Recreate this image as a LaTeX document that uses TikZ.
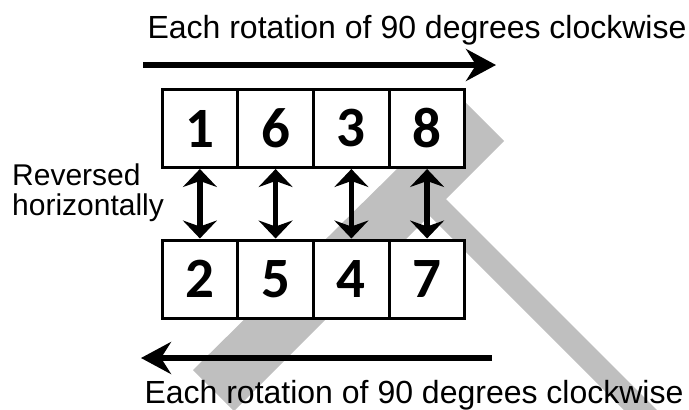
\documentclass[tikz,border=0pt]{standalone}
\usepackage{fontspec}
\setmainfont{Liberation Sans}
\newfontfamily\numfont{Carlito}
\usetikzlibrary{arrows.meta}
\definecolor{wmgray}{RGB}{191,191,191}
\tikzset{
  cell/.style={draw, line width=3pt, fill=white, minimum width=75.75pt, minimum height=78pt, inner sep=0pt,
               font=\numfont\bfseries\fontsize{57}{57}\selectfont},
  bigarrow/.style={line width=6pt, -{Stealth[length=30pt,width=32pt,inset=10pt]}},
  dblarrow/.style={line width=5.5pt, {Stealth[length=18pt,width=34pt,inset=6pt]}-{Stealth[length=18pt,width=34pt,inset=6pt]}},
  caption/.style={anchor=base, inner sep=0pt, font=\fontsize{32}{38}\selectfont},
  sidelabel/.style={anchor=base west, inner sep=0pt, font=\fontsize{30}{30}\selectfont},
  wm/.style={fill=wmgray}
}
\begin{document}
\begin{tikzpicture}[x=1pt,y=-1pt]
\useasboundingbox (0,0) rectangle (689,410);
% watermark shape
\fill[wm] (193,370) -- (465,102) -- (504,141) -- (446,199) -- (657,410) -- (624,410)
          -- (429.5,215.5) -- (234,411) -- cycle;
% boxes
\node[cell] (t1) at (199.9,128.5) {1};
\node[cell] (t2) at (275.6,128.5) {6};
\node[cell] (t3) at (351.4,128.5) {3};
\node[cell] (t4) at (427.1,128.5) {8};
\node[cell] (b1) at (199.9,279) {2};
\node[cell] (b2) at (275.6,279) {5};
\node[cell] (b3) at (351.4,279) {4};
\node[cell] (b4) at (427.1,279) {7};
% vertical double arrows
\foreach \i in {1,2,3,4}{
  \draw[dblarrow] (t\i.south) -- (b\i.north);
}
% horizontal arrows
\coordinate (ta) at (143,65);
\coordinate (tb) at (496,65);
\coordinate (ba) at (492,358);
\coordinate (bb) at (141,358);
\draw[bigarrow] (ta) -- (tb);
\draw[bigarrow] (ba) -- (bb);
% texts
\node[caption] (toptext) at (417,38) {Each rotation of 90 degrees clockwise};
\node[caption] (bottext) at (414,403) {Each rotation of 90 degrees clockwise};
\node[sidelabel] (lbl1) at (12,185) {Reversed};
\node[sidelabel] (lbl2) at (12,215) {horizontally};
\end{tikzpicture}
\end{document}
